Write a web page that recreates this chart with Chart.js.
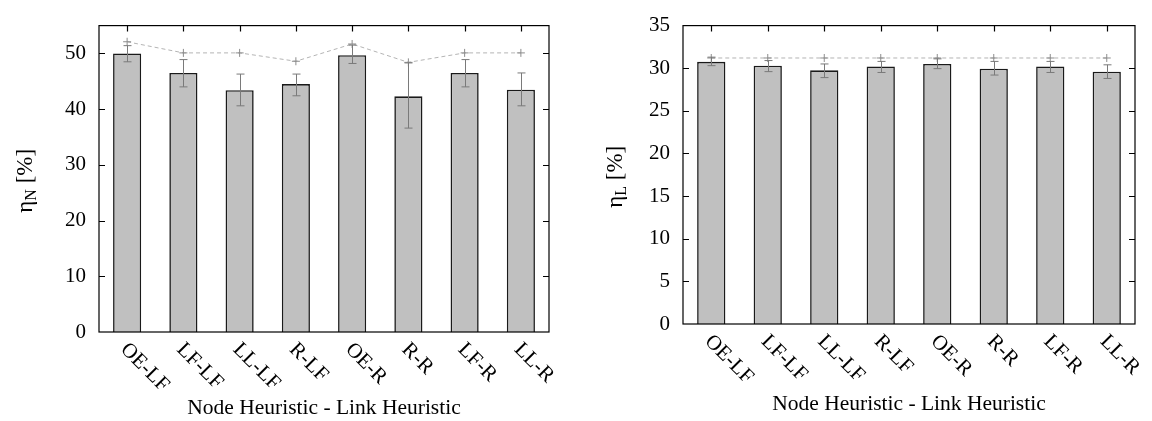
<!DOCTYPE html>
<html>
<head>
<meta charset="utf-8">
<script src="https://cdn.jsdelivr.net/npm/chart.js@4.4.1/dist/chart.umd.min.js"></script>
<style>
html, body { margin: 0; padding: 0; background: #fff; }
#wrap { position: relative; width: 1152px; height: 421px; }
.box { position: absolute; top: 0; width: 576px; height: 421px; }
#probe { position: absolute; left: -999px; top: 0; font-family: "Liberation Serif"; font-size: 20px; }
</style>
</head>
<body>
<div id="probe">Node &#951; 0123</div>
<div id="wrap">
  <div class="box" style="left:0"><canvas id="chart-n"></canvas></div>
  <div class="box" style="left:576px"><canvas id="chart-l"></canvas></div>
</div>
<script>
// node heuristic - link heuristic combinations
const heuristics = ["OE-LF", "LF-LF", "LL-LF", "R-LF", "OE-R", "R-R", "LF-R", "LL-R"];

// node efficiency eta_N [%]
const etaN     = [50.0, 46.5, 43.4, 44.5, 49.7, 42.3, 46.5, 43.5];
const etaNLow  = [48.5, 44.0, 40.6, 42.4, 48.2, 36.6, 44.0, 40.6];
const etaNHigh = [51.4, 48.9, 46.3, 46.3, 51.5, 48.3, 48.9, 46.5];
const etaNBest = [52.1, 50.1, 50.1, 48.6, 51.7, 48.4, 50.1, 50.1];

// link efficiency eta_L [%]
const etaL     = [30.75, 30.3, 29.75, 30.2, 30.5, 29.95, 30.2, 29.6];
const etaLLow  = [30.3, 29.6, 28.9, 29.5, 29.95, 29.2, 29.5, 28.8];
const etaLHigh = [31.3, 30.9, 30.5, 30.8, 31.1, 30.8, 30.8, 30.4];
const etaLBest = [31.2, 31.2, 31.2, 31.2, 31.2, 31.2, 31.2, 31.2];

const yTicksN = [0, 10, 20, 30, 40, 50];
const yTicksL = [0, 5, 10, 15, 20, 25, 30, 35];

const FONT = "'Liberation Serif', 'DejaVu Serif', serif";

// gnuplot-like frame, inward ticks, rotated labels and titles
const framePlugin = {
    id: "frame",
    afterDatasetsDraw(chart, args, opts){
        const ctx = chart.ctx;
        const ys = chart.scales.y;

        // error bars
        const meta = chart.getDatasetMeta(0);
        ctx.save();
        ctx.strokeStyle = "#7a7a7a";
        ctx.lineWidth = 1;
        meta.data.forEach(function(bar, i){
            const x = Math.round(bar.x) + 0.5;
            const y1 = ys.getPixelForValue(opts.low[i]);
            const y2 = ys.getPixelForValue(opts.high[i]);
            ctx.beginPath();
            ctx.moveTo(x, y1); ctx.lineTo(x, y2);
            ctx.moveTo(x - 4, y1); ctx.lineTo(x + 4, y1);
            ctx.moveTo(x - 4, y2); ctx.lineTo(x + 4, y2);
            ctx.stroke();
        });
        ctx.restore();
    },
    afterDraw(chart, args, opts){
        const ctx = chart.ctx, a = chart.chartArea;
        const xs = chart.scales.x, ys = chart.scales.y;
        ctx.save();
        ctx.strokeStyle = "#000";
        ctx.lineWidth = 1.2;
        ctx.strokeRect(a.left, a.top, a.right - a.left, a.bottom - a.top);

        ctx.beginPath();
        ys.ticks.forEach(function(t){
            const y = Math.round(ys.getPixelForValue(t.value)) + 0.5;
            if(t.value === 0 || y <= a.top + 1) return;
            ctx.moveTo(a.left, y); ctx.lineTo(a.left + 6, y);
            ctx.moveTo(a.right, y); ctx.lineTo(a.right - 6, y);
        });
        xs.ticks.forEach(function(t, i){
            const x = Math.round(xs.getPixelForTick(i)) + 0.5;
            ctx.moveTo(x, a.top); ctx.lineTo(x, a.top + 6);
        });
        ctx.stroke();

        // category labels, slanted downwards
        ctx.fillStyle = "#000";
        ctx.font = "21px " + FONT;
        ctx.textAlign = "left";
        ctx.textBaseline = "top";
        xs.ticks.forEach(function(t, i){
            const x = xs.getPixelForTick(i);
            ctx.save();
            ctx.translate(x + 4, a.bottom + 7);
            ctx.rotate(Math.PI / 4);
            ctx.fillText(heuristics[i], 0, 0);
            ctx.restore();
        });

        // x title
        ctx.textAlign = "center";
        ctx.textBaseline = "middle";
        ctx.font = "21.5px " + FONT;
        ctx.fillText("Node Heuristic - Link Heuristic", (a.left + a.right) / 2, a.bottom + opts.xTitleGap);

        // y title with subscript
        ctx.save();
        ctx.translate(opts.yTitleX, (a.top + a.bottom) / 2 + 2);
        ctx.rotate(-Math.PI / 2);
        ctx.textAlign = "left";
        ctx.textBaseline = "alphabetic";
        ctx.font = "23px " + FONT;
        const w1 = ctx.measureText("\u03b7").width;
        const w3 = ctx.measureText(" [%]").width;
        ctx.font = "16px " + FONT;
        const w2 = ctx.measureText(opts.sub).width;
        let x0 = -(w1 + w2 + w3) / 2;
        ctx.font = "23px " + FONT;
        ctx.fillText("\u03b7", x0, 7);
        ctx.font = "16px " + FONT;
        ctx.fillText(opts.sub, x0 + w1, 11);
        ctx.font = "23px " + FONT;
        ctx.fillText(" [%]", x0 + w1 + w2, 7);
        ctx.restore();

        ctx.restore();
    }
};

function makeChart(id, values, low, high, best, yTicks, yMax, pad, extra){
    return new Chart(id, {
        type: "bar",
        data: {
            labels: heuristics,
            datasets: [{
                type: "bar",
                data: values,
                backgroundColor: "#c0c0c0",
                borderColor: "#1a1a1a",
                borderWidth: 1.6,
                barPercentage: 0.5,
                categoryPercentage: 1.0,
                order: 2
            }, {
                type: "line",
                data: best,
                borderColor: "#b4b4b4",
                borderWidth: 1,
                borderDash: [4, 3],
                pointStyle: "cross",
                pointRadius: 4,
                pointBorderColor: "#8c8c8c",
                pointBorderWidth: 1,
                fill: false,
                tension: 0,
                order: 1
            }]
        },
        options: {
            responsive: true,
            maintainAspectRatio: false,
            animation: false,
            layout: { padding: pad },
            scales: {
                x: {
                    grid: { display: false, drawTicks: false },
                    border: { display: false },
                    ticks: { display: false }
                },
                y: {
                    min: 0,
                    max: yMax,
                    grid: { display: false, drawTicks: false },
                    border: { display: false },
                    afterBuildTicks: function(s){
                        s.ticks = yTicks.map(v => ({ value: v }));
                    },
                    afterFit: function(s){ s.width = extra.yWidth; },
                    ticks: {
                        color: "#000",
                        padding: 13,
                        font: { family: FONT, size: 21 }
                    }
                }
            },
            plugins: {
                legend: { display: false },
                tooltip: { enabled: false },
                frame: {
                    low: low,
                    high: high,
                    sub: extra.sub,
                    yTitleX: extra.yTitleX,
                    xTitleGap: extra.xTitleGap
                }
            }
        },
        plugins: [framePlugin]
    });
}

function main(){
    makeChart("chart-n", etaN, etaNLow, etaNHigh, etaNBest, yTicksN, 55,
        { left: 0, top: 25, right: 27, bottom: 89 },
        { yWidth: 99, sub: "N", yTitleX: 25, xTitleGap: 76 });

    makeChart("chart-l", etaL, etaLLow, etaLHigh, etaLBest, yTicksL, 35,
        { left: 0, top: 17, right: 17, bottom: 97 },
        { yWidth: 107, sub: "L", yTitleX: 39, xTitleGap: 80 });
}

document.fonts.load("20px 'Liberation Serif'").then(main, main);
</script>
</body>
</html>
